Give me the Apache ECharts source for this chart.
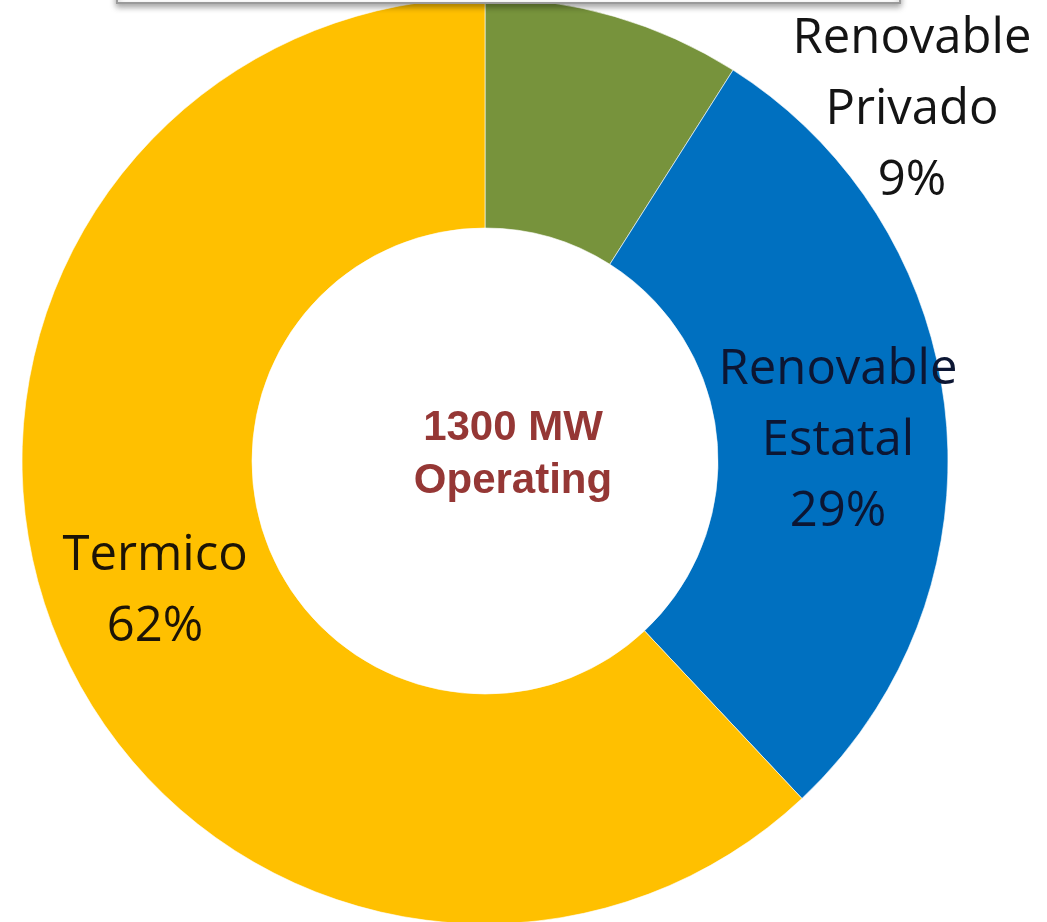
<!DOCTYPE html>
<html>
<head>
<meta charset="utf-8">
<title>Operating capacity</title>
<script src="https://cdn.jsdelivr.net/npm/echarts@6/dist/echarts.min.js"></script>
<style>
  html, body { margin: 0; padding: 0; background: #fff; }
  #main { width: 1047px; height: 922px; }
</style>
</head>
<body>
<div id="main"></div>
<script>
// slices, clockwise from 12 o'clock
const categories = ["Renovable\nPrivado", "Renovable\nEstatal", "Termico"];
const shares = [9, 29, 62];
const sliceColors = ["#77933C", "#0070C0", "#FFC000"];
const labelColors = ["#141414", "#0c1633", "#1c1406"];
const centerLines = ["1300 MW", "Operating"];

// where each label sits (pixels)
const labelSpots = [
  [912, 110],
  [838, 441],
  [155, 592],
];

let chartInstance = null;

//##### init #####//
function initChart() {
  chartInstance = echarts.init(document.getElementById("main"), null, { renderer: "canvas" });

  const pieData = categories.map((name, i) => {
    return {
      name: name,
      value: shares[i],
      itemStyle: { color: sliceColors[i] },
      label: { color: labelColors[i] },
    };
  });

  const option = {
    backgroundColor: "#ffffff",
    animation: false,
    graphic: [
      // edge of the box at the top of the picture
      {
        type: "rect",
        shape: { x: 117, y: -20, width: 783, height: 23 },
        style: {
          fill: "#ffffff",
          stroke: "#9a9a9a",
          lineWidth: 2,
          shadowBlur: 6,
          shadowOffsetY: 3,
          shadowColor: "rgba(0,0,0,0.35)",
        },
        z: 10,
      },
      // text in the hole
      {
        type: "text",
        x: 513,
        y: 455,
        style: {
          text: centerLines.join("\n"),
          align: "center",
          verticalAlign: "middle",
          fill: "#953735",
          fontSize: 42,
          fontWeight: "bold",
          fontFamily: "'Liberation Sans', Arial, sans-serif",
          lineHeight: 53,
        },
        z: 10,
      },
    ],
    series: [
      {
        type: "pie",
        center: [485, 461],
        radius: [233, 463],
        startAngle: 90,
        clockwise: true,
        avoidLabelOverlap: false,
        itemStyle: {
          borderColor: "rgba(255,255,255,0.6)",
          borderWidth: 1,
        },
        label: {
          show: true,
          position: "inside",
          formatter: "{b}\n{d}%",
          fontFamily: "'Open Sans', 'Noto Sans', sans-serif",
          fontSize: 49,
          lineHeight: 71,
          align: "center",
        },
        labelLine: { show: false },
        labelLayout: (params) => {
          const spot = labelSpots[params.dataIndex];
          return {
            x: spot[0],
            y: spot[1],
            align: "center",
            verticalAlign: "middle",
          };
        },
        emphasis: { disabled: true },
        data: pieData,
      },
    ],
  };
  chartInstance.setOption(option);
}

initChart();
</script>
</body>
</html>
